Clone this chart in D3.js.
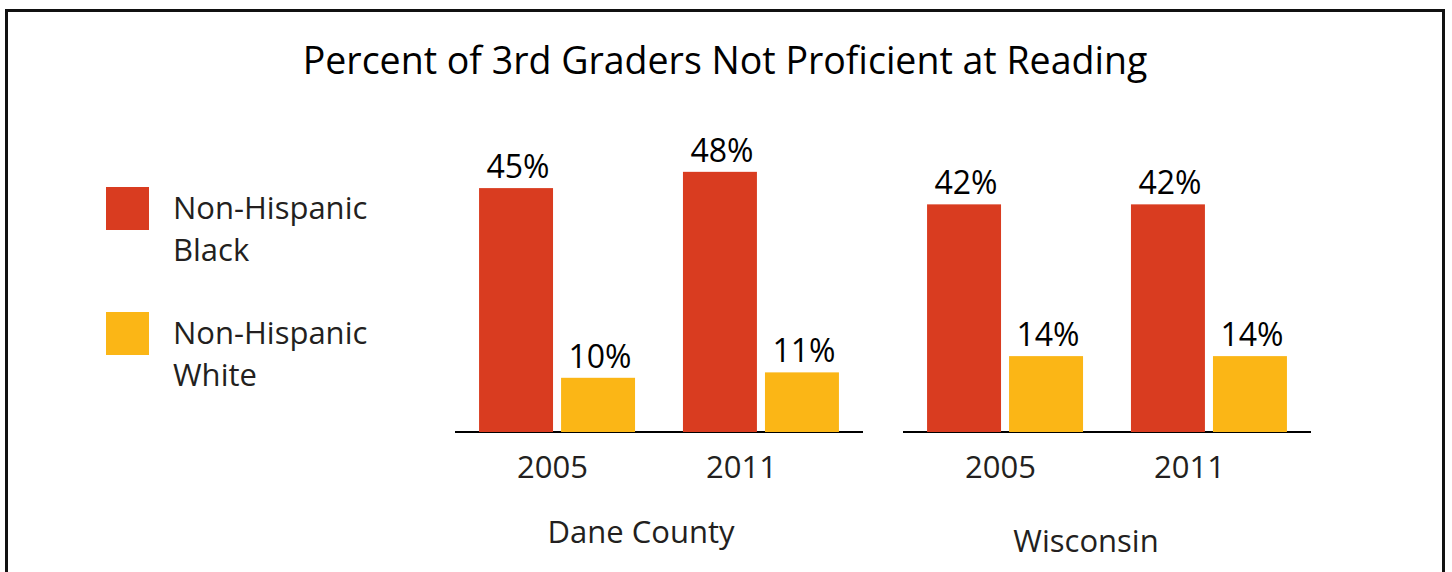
<!DOCTYPE html>
<html>
<head>
<meta charset="utf-8">
<script src="https://cdn.jsdelivr.net/npm/d3@7"></script>
<style>
  body { margin: 0; background: #fff; }
  svg { display: block; font-family: "Open Sans", sans-serif; }
</style>
</head>
<body>
<svg id="chart" width="1452" height="572"></svg>
<script>
// Dati del grafico
const titolo = "Percent of 3rd Graders Not Proficient at Reading";
const regioni = ["Dane County", "Wisconsin"];
const anni = ["2005", "2011"];
const serie = ["Non-Hispanic Black", "Non-Hispanic White"];
const legendaRighe = [["Non-Hispanic", "Black"], ["Non-Hispanic", "White"]];
// valori per regione, poi per anno
const valoriNeri = [[45, 48], [42, 42]];
const valoriBianchi = [[10, 11], [14, 14]];

const colori = ["#d93c20", "#fbb616"];
const testoColore = "#231f20";

const svg = d3.select('#chart');

// Cornice
svg.append('rect')
  .attr('x', 6.5)
  .attr('y', 10.5)
  .attr('width', 1437)
  .attr('height', 600)
  .attr('fill', 'none')
  .attr('stroke', '#111')
  .attr('stroke-width', 3);

// Titolo
svg.append('text')
  .attr('x', 725)
  .attr('y', 74)
  .attr('text-anchor', 'middle')
  .attr('font-size', 37.5)
  .attr('fill', '#000')
  .text(titolo);

// Scale
const baseY = 432;
const y = d3.scaleLinear().domain([0, 100]).range([baseY, baseY - 542]);

const pannello = d3.scaleBand()
  .domain(regioni)
  .range([455, 1351])
  .paddingInner(0);

const xAnno = d3.scaleBand()
  .domain(anni)
  .range([0, 408])
  .paddingInner(0.235)
  .paddingOuter(0.118);

const xSerie = d3.scaleBand()
  .domain(serie)
  .range([0, xAnno.bandwidth()])
  .paddingInner(0.098);

// le etichette degli anni non sono centrate sui gruppi nell'originale
const xEtichetta = d3.scalePoint()
  .domain(anni)
  .range([97, 286]);

regioni.forEach(function (regione, r) {
  const g = svg.append('g')
    .attr('transform', 'translate(' + pannello(regione) + ',0)');

  // Linea di base
  g.append('line')
    .attr('x1', 0)
    .attr('x2', 408)
    .attr('y1', baseY)
    .attr('y2', baseY)
    .attr('stroke', '#000')
    .attr('stroke-width', 2);

  anni.forEach(function (anno, a) {
    const valori = [valoriNeri[r][a], valoriBianchi[r][a]];
    const ga = g.append('g')
      .attr('transform', 'translate(' + xAnno(anno) + ',0)');

    ga.selectAll('rect')
      .data(valori)
      .join('rect')
      .attr('x', (d, i) => xSerie(serie[i]))
      .attr('y', d => y(d))
      .attr('width', xSerie.bandwidth())
      .attr('height', d => baseY - y(d))
      .attr('fill', (d, i) => colori[i]);

    ga.selectAll('text')
      .data(valori)
      .join('text')
      .attr('x', (d, i) => xSerie(serie[i]) + xSerie.bandwidth() / 2 + 2)
      .attr('y', d => y(d) - 10)
      .attr('text-anchor', 'middle')
      .attr('font-size', 32)
      .attr('fill', '#000')
      .text(d => d + '%');
  });

  // Etichette degli anni
  const asse = d3.axisBottom(xEtichetta).tickSize(0).tickPadding(0);
  const ga = g.append('g')
    .attr('transform', 'translate(0,' + 478 + ')')
    .call(asse);
  ga.select('.domain').remove();
  ga.selectAll('text')
    .attr('font-size', 31)
    .attr('font-family', '"Open Sans", sans-serif')
    .attr('fill', testoColore)
    .attr('dy', 0);

  // Nome della regione
  g.append('text')
    .attr('x', r === 0 ? 186 : 183)
    .attr('y', r === 0 ? 543 : 552)
    .attr('text-anchor', 'middle')
    .attr('font-size', 31)
    .attr('fill', testoColore)
    .text(regione);
});

// Legenda
const legenda = svg.append('g');
serie.forEach(function (s, i) {
  const riga = legenda.append('g')
    .attr('transform', 'translate(106,' + (187 + i * 125) + ')');
  riga.append('rect')
    .attr('width', 43)
    .attr('height', 43)
    .attr('fill', colori[i]);
  riga.append('text')
    .attr('x', 67)
    .attr('font-size', 31)
    .attr('fill', testoColore)
    .selectAll('tspan')
    .data(legendaRighe[i])
    .join('tspan')
    .attr('x', 67)
    .attr('y', (d, k) => 32 + k * 42)
    .text(d => d);
});
</script>
</body>
</html>
